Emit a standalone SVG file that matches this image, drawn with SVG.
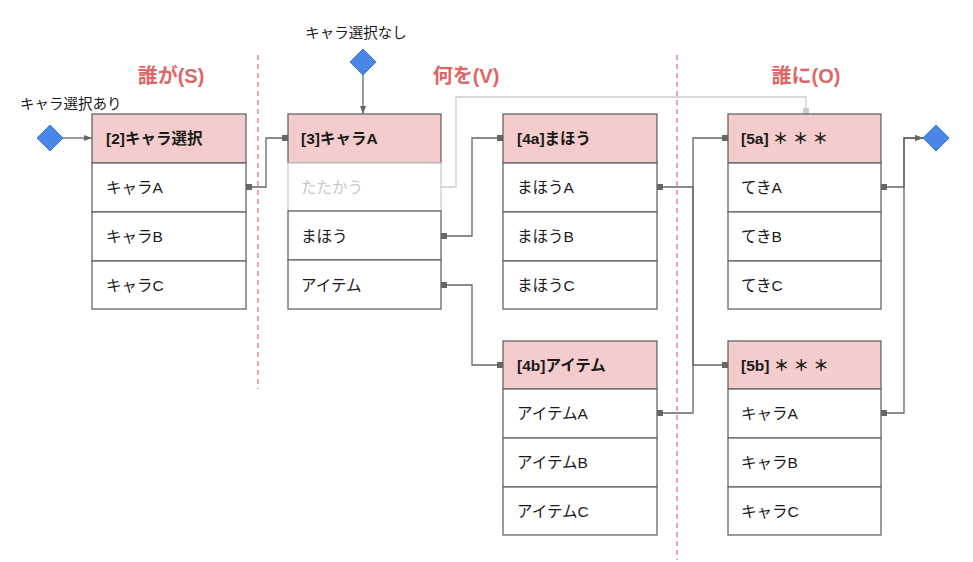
<svg xmlns="http://www.w3.org/2000/svg" width="973" height="562" viewBox="0 0 973 562">
<defs>
<style>
text{font-family:"Liberation Sans","Noto Sans CJK JP",sans-serif;font-size:15.5px;fill:#1a1a1a;dominant-baseline:central}
.h{font-weight:bold}
.t{font-weight:bold;font-size:20px;fill:#e06666;text-anchor:middle}
.lbl{font-size:14.5px}
.hd{fill:#f4cccc;stroke:#666;stroke-width:1.3}
.c{fill:#fff;stroke:#666;stroke-width:1.3}
.cl{fill:#fff;stroke:#ccc;stroke-width:1.3}
.dim{fill:#c8c8c8}
.e{fill:none;stroke:#666;stroke-width:1.3}
.eg{fill:none;stroke:#ccc;stroke-width:1.3}
.sep{stroke:#ea6b6b;stroke-width:1.2;stroke-dasharray:5,4}
.dia{fill:#4a86e8;stroke:#3c78d8;stroke-width:1}
</style>
<marker id="sqs" viewBox="0 0 6 6" refX="0" refY="3" markerWidth="6" markerHeight="6" markerUnits="userSpaceOnUse" orient="auto"><rect width="6" height="6" fill="#666"/></marker>
<marker id="sq" viewBox="0 0 6 6" refX="6" refY="3" markerWidth="6" markerHeight="6" markerUnits="userSpaceOnUse" orient="auto"><rect width="6" height="6" fill="#666"/></marker>
<marker id="sqg" viewBox="0 0 6 6" refX="6" refY="3" markerWidth="6" markerHeight="6" markerUnits="userSpaceOnUse" orient="auto"><rect width="6" height="6" fill="#ccc"/></marker>
<marker id="ar" viewBox="0 0 8 8" refX="8" refY="4" markerWidth="8" markerHeight="8" markerUnits="userSpaceOnUse" orient="auto"><path d="M0,1 L8,4 L0,7 Z" fill="#666"/></marker>
</defs>

<g id="separators">
<line class="sep" x1="258" y1="55" x2="258" y2="389"/>
<line class="sep" x1="677" y1="55" x2="677" y2="560"/>
</g>

<g id="titles">
<text class="t" x="171" y="76">誰が(S)</text>
<text class="t" x="466" y="76">何を(V)</text>
<text class="t" x="806" y="76">誰に(O)</text>
</g>

<g id="connectors">
<path class="e" d="M63,138 H92" marker-end="url(#ar)"/>
<path class="e" d="M363,75 V114" marker-end="url(#ar)"/>
<path class="e" d="M246,187 H266 V138 H288" marker-start="url(#sqs)" marker-end="url(#sq)"/>
<path class="eg" d="M441,187 H456 V97 H806 V114" marker-end="url(#sqg)"/>
<path class="e" d="M441,236 H472 V138 H503" marker-start="url(#sqs)" marker-end="url(#sq)"/>
<path class="e" d="M441,285 H472 V365 H503" marker-start="url(#sqs)" marker-end="url(#sq)"/>
<path class="e" d="M657,187 H693 V365 H728" marker-start="url(#sqs)" marker-end="url(#sq)"/>
<path class="e" d="M657,413 H693 V138 H728" marker-start="url(#sqs)" marker-end="url(#sq)"/>
<path class="e" d="M881,187 H904 V138 H923" marker-start="url(#sqs)" marker-end="url(#ar)"/>
<path class="e" d="M881,413 H904 V138 H923" marker-start="url(#sqs)" marker-end="url(#ar)"/>
</g>

<g id="start-yes">
<path class="dia" d="M50,125 L63,138 L50,151 L37,138 Z"/>
<text class="lbl" x="20" y="104">キャラ選択あり</text>
</g>

<g id="start-no">
<path class="dia" d="M363,49 L376,62 L363,75 L350,62 Z"/>
<text class="lbl" x="356" y="33" text-anchor="middle">キャラ選択なし</text>
</g>

<g id="end">
<path class="dia" d="M936,125 L949,138 L936,151 L923,138 Z"/>
</g>

<g id="t2">
<rect class="hd" x="92" y="114" width="154" height="49"/>
<rect class="c" x="92" y="163" width="154" height="49"/>
<rect class="c" x="92" y="212" width="154" height="49"/>
<rect class="c" x="92" y="261" width="154" height="48"/>
<text class="h" x="106" y="138">[2]キャラ選択</text>
<text x="106" y="187">キャラA</text>
<text x="106" y="236">キャラB</text>
<text x="106" y="285">キャラC</text>
</g>

<g id="t3">
<rect class="hd" x="288" y="114" width="153" height="49"/>
<rect class="cl" x="288" y="163" width="153" height="48"/>
<rect class="c" x="288" y="211" width="153" height="49"/>
<rect class="c" x="288" y="260" width="153" height="49"/>
<text class="h" x="301" y="138">[3]キャラA</text>
<text class="dim" x="301" y="187">たたかう</text>
<text x="301" y="236">まほう</text>
<text x="301" y="285">アイテム</text>
</g>

<g id="t4a">
<rect class="hd" x="503" y="114" width="154" height="49"/>
<rect class="c" x="503" y="163" width="154" height="49"/>
<rect class="c" x="503" y="212" width="154" height="49"/>
<rect class="c" x="503" y="261" width="154" height="48"/>
<text class="h" x="517" y="138">[4a]まほう</text>
<text x="517" y="187">まほうA</text>
<text x="517" y="236">まほうB</text>
<text x="517" y="285">まほうC</text>
</g>

<g id="t4b">
<rect class="hd" x="503" y="341" width="154" height="48"/>
<rect class="c" x="503" y="389" width="154" height="49"/>
<rect class="c" x="503" y="438" width="154" height="49"/>
<rect class="c" x="503" y="487" width="154" height="48"/>
<text class="h" x="517" y="365">[4b]アイテム</text>
<text x="517" y="413">アイテムA</text>
<text x="517" y="462">アイテムB</text>
<text x="517" y="511">アイテムC</text>
</g>

<g id="t5a">
<rect class="hd" x="728" y="114" width="153" height="49"/>
<rect class="c" x="728" y="163" width="153" height="49"/>
<rect class="c" x="728" y="212" width="153" height="49"/>
<rect class="c" x="728" y="261" width="153" height="48"/>
<text class="h" x="741" y="138">[5a] ＊ ＊ ＊</text>
<text x="741" y="187">てきA</text>
<text x="741" y="236">てきB</text>
<text x="741" y="285">てきC</text>
</g>

<g id="t5b">
<rect class="hd" x="728" y="341" width="153" height="48"/>
<rect class="c" x="728" y="389" width="153" height="49"/>
<rect class="c" x="728" y="438" width="153" height="49"/>
<rect class="c" x="728" y="487" width="153" height="48"/>
<text class="h" x="741" y="365">[5b] ＊ ＊ ＊</text>
<text x="741" y="413">キャラA</text>
<text x="741" y="462">キャラB</text>
<text x="741" y="511">キャラC</text>
</g>
</svg>
